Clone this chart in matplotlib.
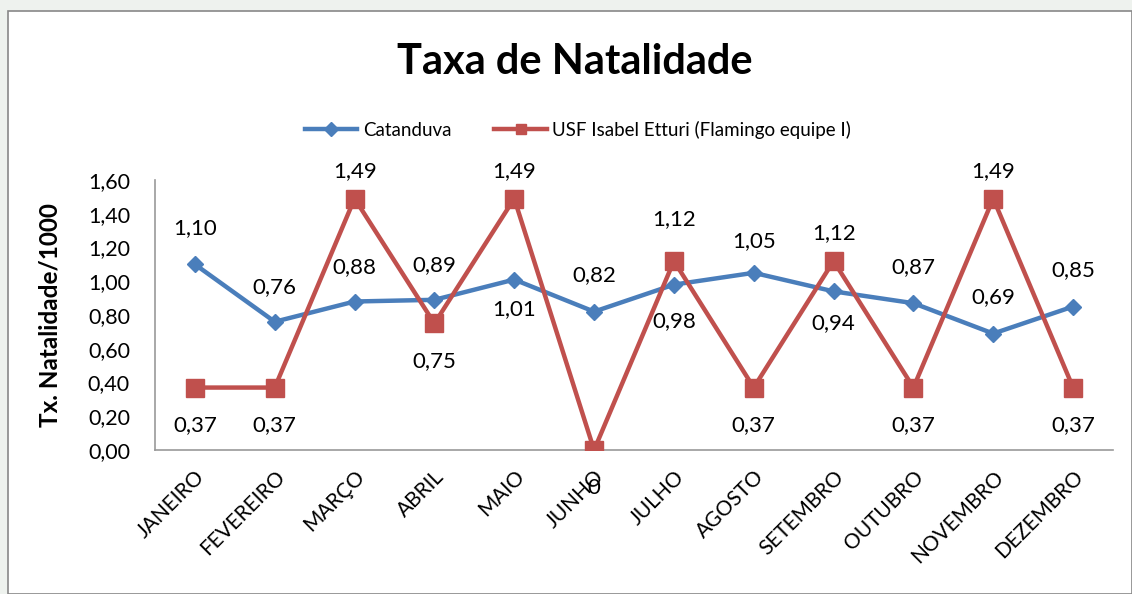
import matplotlib
matplotlib.use("Agg")
import matplotlib.pyplot as plt
from matplotlib.patches import Rectangle

months = ["JANEIRO", "FEVEREIRO", "MARÇO", "ABRIL", "MAIO", "JUNHO",
          "JULHO", "AGOSTO", "SETEMBRO", "OUTUBRO", "NOVEMBRO", "DEZEMBRO"]
catanduva = [1.10, 0.76, 0.88, 0.89, 1.01, 0.82, 0.98, 1.05, 0.94, 0.87, 0.69, 0.85]
usf = [0.37, 0.37, 1.49, 0.75, 1.49, 0.0, 1.12, 0.37, 1.12, 0.37, 1.49, 0.37]
cat_labels = ["1,10", "0,76", "0,88", "0,89", "1,01", "0,82", "0,98", "1,05", "0,94", "0,87", "0,69", "0,85"]
usf_labels = ["0,37", "0,37", "1,49", "0,75", "1,49", "0", "1,12", "0,37", "1,12", "0,37", "1,49", "0,37"]
yticks = [0.0, 0.2, 0.4, 0.6, 0.8, 1.0, 1.2, 1.4, 1.6]
ytick_labels = ["0,00", "0,20", "0,40", "0,60", "0,80", "1,00", "1,20", "1,40", "1,60"]

# label offsets (points) — layout only
cat_dy = [26, 25, 25, 25, -21, 26, -26, 23, -23, 26, 26, 26]
usf_dy = [-27, -27, 20, -27, 20, -27, 30, -27, 20, -27, 20, -27]

plt.rcParams['font.family'] = ['Lato', 'DejaVu Sans']

W, H = 1132, 594
fig = plt.figure(figsize=(W / 100, H / 100), dpi=100)
fig.patch.set_facecolor("#eef2ee")

# white chart frame
fig.patches.append(Rectangle((8 / W, 0), (W - 8) / W, (H - 11) / H, transform=fig.transFigure,
                             facecolor="white", edgecolor="#888888", linewidth=1.2, zorder=-10))
fig.text(10 / W, 1.0 + 3 / H, "ano de 2019.", fontsize=13, fontweight="bold", family="Liberation Serif",
         va="baseline", ha="left")

ax = fig.add_axes([155 / W, (H - 450) / H, (1113 - 155) / W, (450 - 180) / H])
ax.set_zorder(2)
ax.set_facecolor("white")
x = list(range(len(months)))

ax.plot(x, catanduva, color="#4a7ebb", lw=3.2, marker="D", markersize=8, label="Catanduva", zorder=3)
ax.plot(x, usf, color="#c0504d", lw=3.2, marker="s", markersize=13,
        label="USF Isabel Etturi (Flamingo equipe I)", zorder=4)

for i in x:
    ax.annotate(cat_labels[i], (i, catanduva[i]), xytext=(0, cat_dy[i]), textcoords="offset points",
                ha="center", va="center", fontsize=16, zorder=5)
    ax.annotate(usf_labels[i], (i, usf[i]), xytext=(0, usf_dy[i]), textcoords="offset points",
                ha="center", va="center", fontsize=16, zorder=5, annotation_clip=False)

ax.set_xlim(-0.5, len(months) - 0.5)
ax.set_ylim(0, 1.6)
ax.set_yticks(yticks)
ax.set_yticklabels(ytick_labels, fontsize=15.5)
ax.set_xticks(x)
ax.set_xticklabels(months, rotation=45, ha="right", rotation_mode="anchor", fontsize=15)
ax.tick_params(axis="both", length=0)
ax.tick_params(axis="y", pad=18)
ax.tick_params(axis="x", pad=12)
for s in ["top", "right"]:
    ax.spines[s].set_visible(False)
ax.spines["left"].set_color("#999999")
ax.spines["bottom"].set_color("#999999")
ax.spines["left"].set_linewidth(1.2)
ax.spines["bottom"].set_linewidth(1.2)

ax.set_ylabel("Tx. Natalidade/1000", fontsize=17.5, fontweight="bold")
ax.yaxis.set_label_coords((62 - 155) / (1113 - 155), 0.5)

fig.text(575 / W, 1 - 62 / H, "Taxa de Natalidade", fontsize=30, fontweight="bold",
         ha="center", va="center")

leg = fig.legend(loc="center", bbox_to_anchor=(578 / W, 1 - 130 / H), ncol=2, frameon=False,
                 fontsize=13.5, handlelength=2.8, columnspacing=2.3, handletextpad=0.3)
for h in leg.legend_handles:
    h.set_markersize(7)

fig.savefig("out.png", dpi=100, facecolor=fig.get_facecolor())
